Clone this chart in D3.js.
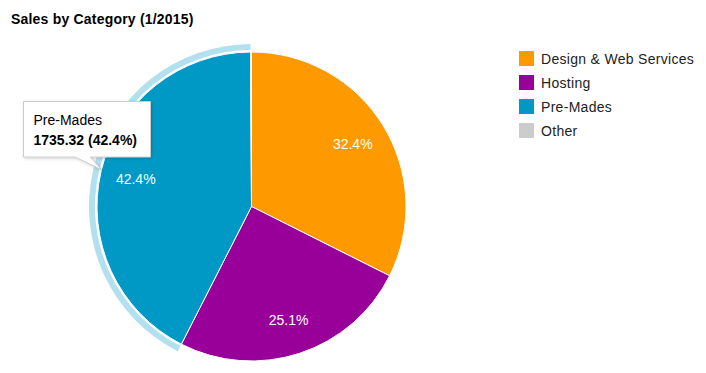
<!DOCTYPE html>
<html><head><meta charset="utf-8">
<script src="https://cdn.jsdelivr.net/npm/d3@7"></script>
<style>
html,body{margin:0;padding:0;background:#fff;}
svg text{font-family:Arial,"Liberation Sans",sans-serif;}
</style></head>
<body>
<svg id="chart" width="706" height="373"></svg>
<script>
const title = "Sales by Category (1/2015)";
const categories = ["Design & Web Services", "Hosting", "Pre-Mades", "Other"];
const values = [1326.0, 1027.3, 1735.32, 4.1];
const colors = ["#ff9900", "#990099", "#0099c6", "#cccccc"];
const hovered = 2;

const svg = d3.select("#chart");
const cx = 251.5, cy = 206.5, R = 154.5;

svg.append("text").attr("x", 11).attr("y", 24)
  .attr("font-size", 14).attr("font-weight", "bold").attr("fill", "#000")
  .attr("letter-spacing", 0.2)
  .text(title);

const total = d3.sum(values);
const pie = d3.pie().sort(null).value(d => d)(values);
const arc = d3.arc().innerRadius(0).outerRadius(R);
const g = svg.append("g").attr("transform", `translate(${cx},${cy})`);

// hover ring
const hp = pie[hovered];
g.append("path")
  .attr("d", d3.arc().innerRadius(R + 2).outerRadius(R + 8)(hp))
  .attr("fill", "#b3e0ee");

g.selectAll("path.slice").data(pie).join("path")
  .attr("class", "slice")
  .attr("d", arc)
  .attr("fill", (d, i) => colors[i])
  .attr("stroke", "#fff").attr("stroke-width", 1);

const labelArc = d3.arc().innerRadius(R * 0.77).outerRadius(R * 0.77);
const fmt = v => (v / total * 100).toFixed(1) + "%";
g.selectAll("text.lbl").data(pie.filter(d => d.value / total > 0.02)).join("text")
  .attr("class", "lbl")
  .attr("transform", d => { const c = labelArc.centroid(d); return `translate(${c[0]},${c[1] + 5})`; })
  .attr("text-anchor", "middle").attr("font-size", 14).attr("fill", "#fff")
  .text(d => fmt(d.value));

// legend
const leg = svg.append("g").attr("transform", "translate(519,51)");
categories.forEach((c, i) => {
  const row = leg.append("g").attr("transform", `translate(0,${i * 24})`);
  row.append("rect").attr("width", 15).attr("height", 15).attr("fill", colors[i]);
  row.append("text").attr("x", 22).attr("y", 13).attr("font-size", 14).attr("fill", "#222")
    .attr("letter-spacing", 0.3).text(c);
});

// tooltip
const defs = svg.append("defs");
const f = defs.append("filter").attr("id", "sh").attr("x", "-20%").attr("y", "-20%").attr("width", "140%").attr("height", "140%");
f.append("feDropShadow").attr("dx", 1).attr("dy", 1).attr("stdDeviation", 1.5).attr("flood-color", "#000").attr("flood-opacity", 0.2);
const tx = 23.5, ty = 101.5, tw = 127, th = 55.5;
const tip = svg.append("g");
tip.append("path")
  .attr("d", `M${tx},${ty}H${tx + tw}V${ty + th}H90L101.7,169.7L75,${ty + th}H${tx}Z`)
  .attr("fill", "#fff").attr("stroke", "#ccc").attr("stroke-width", 1).attr("filter", "url(#sh)");
tip.append("text").attr("x", 33.5).attr("y", 124.5).attr("font-size", 14).attr("fill", "#000").text(categories[hovered]);
tip.append("text").attr("x", 33.5).attr("y", 144.5).attr("font-size", 14).attr("font-weight", "bold").attr("fill", "#000")
  .text(values[hovered].toFixed(2) + " (" + fmt(values[hovered]) + ")");
</script>
</body></html>
